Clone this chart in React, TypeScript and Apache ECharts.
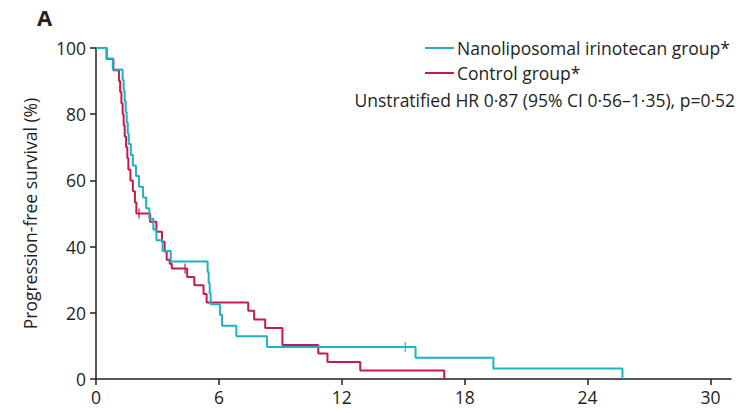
import React, { useEffect, useRef } from "react";
import * as echarts from "echarts";

const xTicks = [0, 6, 12, 18, 24, 30];
const yTicks = [0, 20, 40, 60, 80, 100];

const seriesNames = ["Nanoliposomal irinotecan group*", "Control group*"];
const hrText = "Unstratified HR 0·87 (95% CI 0·56–1·35), p=0·52";

// Kaplan–Meier steps: [months, survival %]
const nalTimes = [0, 0.52, 0.82, 1.3, 1.35, 1.4, 1.45, 1.5, 1.55, 1.6, 1.7, 1.8, 1.95, 2.1, 2.3, 2.45, 2.6, 2.8, 2.95, 3.25, 3.65, 5.45, 5.5, 5.55, 5.6, 6.05, 6.15, 6.85, 8.35, 15.6, 19.4, 25.7];
const nalSurv = [100, 96.8, 93.5, 90.3, 87.1, 83.9, 80.6, 77.4, 74.2, 71.0, 67.7, 64.5, 61.3, 58.1, 54.8, 51.6, 48.4, 45.2, 41.9, 38.7, 35.5, 32.3, 29.0, 25.8, 22.6, 19.4, 16.1, 12.9, 9.7, 6.45, 3.2, 0];
const nalCensorTimes = [15.1];
const nalCensorSurv = [9.7];

const ctlTimes = [0, 0.52, 0.85, 1.12, 1.18, 1.24, 1.3, 1.35, 1.4, 1.47, 1.53, 1.58, 1.68, 1.8, 1.9, 1.97, 2.64, 2.95, 3.22, 3.35, 3.45, 3.6, 3.7, 4.45, 4.8, 5.25, 5.4, 7.43, 7.72, 8.26, 9.1, 10.85, 11.3, 12.9, 17.0];
const ctlSurv = [100, 96.7, 93.3, 90, 86.7, 83.3, 80, 76.7, 73.3, 70, 66.7, 63.3, 60, 56.7, 53.3, 50, 47.5, 44.5, 41.5, 38.5, 36, 34.8, 33.4, 30.8, 28.3, 25.7, 23.1, 20.6, 18.0, 15.4, 10.3, 7.7, 5.1, 2.6, 0];
const ctlCensorTimes = [2.1, 4.35];
const ctlCensorSurv = [50, 33.4];

const TEAL = "#20b2c1";
const RED = "#c51a4b";
const INK = "#231f20";
const FONT = "'Open Sans', sans-serif";

export default function App() {
  const ref = useRef<HTMLDivElement>(null);
  useEffect(() => {
    if (!ref.current) return;
    const chart = echarts.init(ref.current, null, { renderer: "svg" });
    const zip = (a: number[], b: number[]) => a.map((v, i) => [v, b[i]]);
    chart.setOption({
      animation: false,
      backgroundColor: "#ffffff",
      textStyle: { fontFamily: FONT },
      grid: { left: 96, right: 10, top: 48, bottom: 34, containLabel: false },
      legend: {
        orient: "vertical",
        left: 425,
        top: 39,
        padding: 0,
        itemWidth: 29,
        itemHeight: 2,
        itemGap: 7,
        icon: "rect",
        data: seriesNames,
        textStyle: { fontFamily: FONT, fontSize: 17.5, lineHeight: 18, height: 18, color: INK, padding: [0, 0, 0, -2] },
      },
      xAxis: {
        type: "value",
        min: 0,
        max: 31,
        splitLine: { show: false },
        axisLine: { lineStyle: { color: INK, width: 1.5 } },
        axisTick: { length: 6, lineStyle: { color: INK, width: 1.5 }, customValues: xTicks },
        axisLabel: { customValues: xTicks, fontSize: 17.5, color: INK, margin: 9, fontFamily: FONT },
      },
      yAxis: {
        type: "value",
        min: 0,
        max: 100,
        interval: 20,
        name: "Progression-free survival (%)",
        nameLocation: "middle",
        nameGap: 57,
        nameTextStyle: { fontSize: 17.5, color: INK, fontFamily: FONT },
        splitLine: { show: false },
        axisLine: { show: true, lineStyle: { color: INK, width: 1.5 } },
        axisTick: { show: true, length: 6, lineStyle: { color: INK, width: 1.5 } },
        axisLabel: { fontSize: 17.5, color: INK, margin: 10, fontFamily: FONT },
      },
      series: [
        {
          name: seriesNames[0],
          type: "line",
          step: "end",
          data: zip(nalTimes, nalSurv),
          showSymbol: false,
          symbol: "none",
          color: TEAL,
          lineStyle: { color: TEAL, width: 2 },
          z: 3,
        },
        {
          name: seriesNames[1],
          type: "line",
          step: "end",
          data: zip(ctlTimes, ctlSurv),
          showSymbol: false,
          symbol: "none",
          color: RED,
          lineStyle: { color: RED, width: 2 },
          z: 2,
        },
        {
          name: "nal-censor",
          type: "scatter",
          data: zip(nalCensorTimes, nalCensorSurv),
          symbol: "rect",
          symbolSize: [1.5, 10],
          itemStyle: { color: TEAL },
          z: 4,
        },
        {
          name: "ctl-censor",
          type: "scatter",
          data: zip(ctlCensorTimes, ctlCensorSurv),
          symbol: "rect",
          symbolSize: [1.5, 10],
          itemStyle: { color: RED },
          z: 4,
        },
      ],
      graphic: [
        {
          type: "text",
          left: 37,
          top: 6,
          style: { text: "A", fontSize: 22, fontWeight: "bold", fill: INK, fontFamily: FONT },
        },
        {
          type: "text",
          right: 6,
          top: 91,
          style: { text: hrText, fontSize: 17.5, fill: INK, fontFamily: FONT },
        },
      ],
    });
    return () => chart.dispose();
  }, []);
  return <div ref={ref} style={{ width: 741, height: 413, position: "absolute", left: 0, top: 0 }} />;
}
